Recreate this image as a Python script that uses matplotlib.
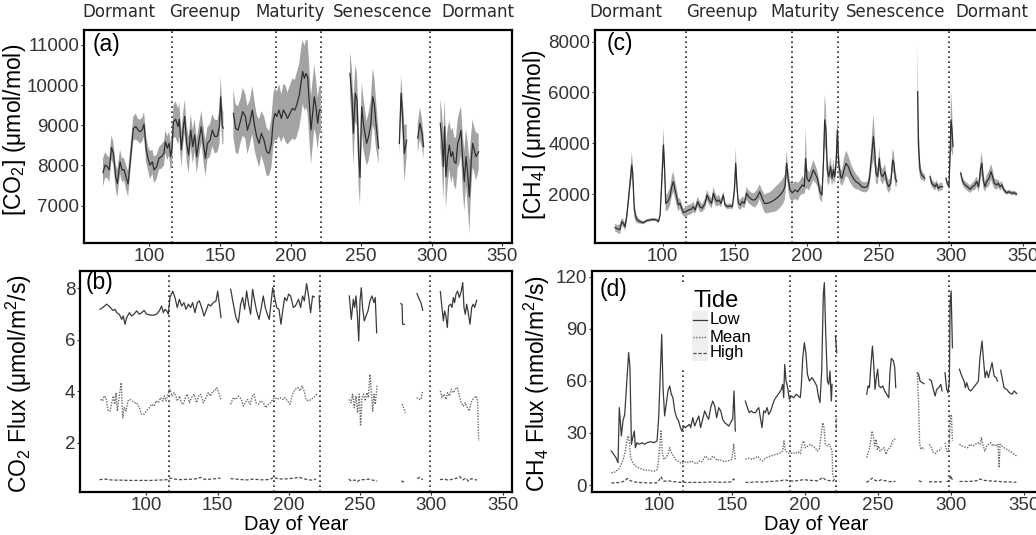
import numpy as np
import matplotlib
matplotlib.use("Agg")
import matplotlib.pyplot as plt
from matplotlib.lines import Line2D
from matplotlib.patches import Rectangle

plt.rcParams['font.family'] = ['Liberation Sans', 'DejaVu Sans']
plt.rcParams['mathtext.fontset'] = 'custom'
plt.rcParams['mathtext.rm'] = 'Liberation Sans'
plt.rcParams['mathtext.it'] = 'Liberation Sans:italic'
plt.rcParams['mathtext.default'] = 'regular'

# phenology phases
phase_days = [116, 189.5, 221.5, 299]
phase_names = ['Dormant', 'Greenup', 'Maturity', 'Senescence', 'Dormant']
doy_ticks = [100, 150, 200, 250, 300, 350]

# ---- (a) CO2 concentration: mean and spread, one list per data run ----
co2_day = [
    [67.1, 68.6, 70.2, 71.6, 73.1, 74.5, 76.1, 77.3, 79.2, 80.6, 82.0, 83.4, 84.9, 86.7, 88.6, 90.3, 92.0, 93.4, 95.0, 96.2,
     97.6, 99.0, 100.4, 102.1, 103.3, 105.2, 106.8, 108.5, 110.3, 111.3, 112.7, 113.9, 115.1, 116.0, 117.0, 118.6, 120.3, 121.2, 122.6, 124.1,
     125.0, 126.4, 127.8, 129.3, 130.7, 132.1, 133.5, 135.2, 136.8, 138.2, 139.7, 141.1, 143.0, 144.6, 146.3, 148.2, 149.6, 150.5, 151.7, 152.4],
    [159.5, 161.1, 162.8, 164.7, 166.1, 168.0, 169.4, 171.3, 172.9, 174.6, 176.0, 177.7, 179.3, 181.2, 183.1, 184.8, 186.4, 187.8, 189.0, 190.2,
     191.8, 193.5, 194.9, 196.3, 197.8, 199.6, 201.3, 203.0, 204.4, 206.2, 207.4, 208.6, 209.8, 210.9, 212.1, 213.3, 214.5, 216.8, 218.0, 219.2,
     220.4, 221.6],
    [242.1, 243.5, 244.5, 245.9, 247.1, 248.2, 249.2, 250.4, 251.6, 252.7, 253.9, 255.3, 256.8, 258.2, 259.4, 260.5, 262.4],
    [277.1, 278.3, 279.4, 280.6, 282.3],
    [290.1, 291.7, 293.1, 294.3],
    [306.1, 307.3, 308.3, 309.2, 310.1, 311.3, 312.5, 313.7, 314.9, 316.0, 317.2, 318.4, 319.6, 320.8, 321.9, 323.1, 324.3, 325.5, 326.7, 327.9,
     329.0, 330.2, 331.4, 333.3],
]
co2_mean = [
    [7820, 8010, 7970, 7890, 8450, 8300, 7720, 7550, 8090, 7890, 7900, 7720, 7540, 8220, 8920, 8970, 8880, 8840, 8900, 9030,
     8430, 8180, 8010, 8090, 7890, 7970, 8180, 8220, 8300, 8590, 8430, 8550, 8220, 8430, 9090, 9150, 8970, 9150, 8390, 8970,
     9220, 8550, 8260, 8880, 8470, 8760, 8220, 8630, 8970, 8550, 8180, 8550, 8630, 8880, 8720, 8730, 8970, 9710, 8970, 8930],
    [9300, 8920, 8880, 9130, 9340, 9220, 8880, 9090, 9380, 8970, 8720, 8550, 8800, 8630, 8340, 8300, 8550, 9130, 9300, 9220,
     9380, 9170, 9380, 9300, 9170, 9300, 9420, 9380, 9510, 9750, 10050, 10340, 10170, 10290, 10210, 9550, 8880, 9710, 9460, 9050,
     9380, 9380],
    [10290, 9710, 8800, 9800, 9630, 8300, 7700, 9460, 9050, 8800, 8550, 8720, 9010, 9710, 9510, 9050, 8430],
    [8550, 9800, 9220, 8300, 8630],
    [8680, 9050, 8800, 8470],
    [9050, 8630, 7970, 8970, 7720, 8220, 8510, 8220, 8340, 8090, 8050, 8550, 8680, 8880, 8140, 7600, 8220, 7800, 7220, 8050,
     8550, 8390, 8220, 8340],
]
co2_sd = [
    [350, 320, 280, 300, 300, 280, 300, 350, 300, 300, 280, 300, 320, 300, 300, 320, 280, 300, 300, 300,
     330, 300, 350, 300, 330, 300, 280, 300, 300, 280, 300, 300, 350, 400, 400, 450, 450, 420, 450, 400,
     420, 450, 450, 420, 420, 400, 420, 400, 400, 420, 450, 400, 400, 400, 420, 400, 450, 500, 450, 400],
    [600, 600, 600, 550, 600, 550, 600, 550, 600, 600, 550, 600, 550, 600, 600, 550, 600, 650, 650, 600,
     650, 600, 650, 700, 650, 700, 750, 750, 800, 800, 850, 800, 800, 850, 900, 900, 850, 800, 700, 650,
     600, 550],
    [550, 700, 800, 700, 650, 800, 700, 600, 650, 600, 550, 600, 600, 700, 650, 600, 400],
    [300, 450, 500, 700, 400],
    [350, 400, 350, 300],
    [600, 700, 850, 700, 800, 700, 600, 650, 600, 600, 650, 600, 650, 600, 700, 750, 700, 800, 900, 700,
     600, 550, 600, 450],
]

# ---- (c) CH4 concentration ----
ch4_day = [
    [66.9, 68.8, 70.4, 71.5, 72.7, 73.9, 75.0, 76.2, 77.3, 78.5, 79.2, 80.3, 81.9, 84.3, 86.6, 88.9, 91.2, 93.5, 95.8, 97.0,
     98.2, 99.3, 100.5, 101.2, 102.1, 103.5, 105.1, 106.3, 107.4, 108.6, 109.7, 110.9, 112.0, 113.2, 114.4, 116.0, 117.8, 119.7, 121.3, 122.5,
     124.3, 125.9, 127.5, 129.4, 130.8, 132.2, 134.0, 135.2, 136.3, 137.7, 139.1, 140.5, 142.1, 143.3, 145.1, 146.8, 148.4, 149.8, 150.7, 151.6,
     152.5, 153.9, 155.3, 156.7, 158.3, 159.5, 160.9, 162.3, 164.1, 165.9, 167.3, 168.7, 170.6, 172.2, 174.5, 176.8, 179.1, 181.5, 183.8, 184.9,
     186.1, 187.2, 188.4, 190.0, 191.9, 193.7, 195.3, 196.9, 198.3, 199.3, 200.2, 201.6, 203.0, 204.6, 205.8, 207.4, 209.2, 210.6, 211.6, 212.5,
     213.4, 214.3, 215.3, 216.6, 217.6, 218.5, 219.4, 220.4, 221.3, 222.2, 223.6, 224.5, 225.9, 227.3, 228.9, 230.5, 232.4, 234.2, 236.1, 238.2,
     240.0, 242.1, 243.5, 244.9, 246.3, 247.2, 248.1, 249.3, 250.4, 251.4, 252.7, 254.4, 255.5, 256.9, 258.3, 259.7, 260.6, 261.5, 262.5],
    [277.0, 277.7, 278.7, 279.8, 281.0, 282.1],
    [285.6, 286.8, 287.9, 289.1, 290.2, 291.4, 292.5, 294.4],
    [296.7, 297.6, 298.8, 299.5, 300.2, 300.9, 301.6],
    [306.9, 308.3, 309.9, 311.5, 313.4, 315.2, 316.8, 318.0, 319.4, 320.8, 321.7, 322.6, 323.8, 324.9, 326.6, 328.0, 329.1, 330.3, 331.9, 333.0,
     334.2, 335.6, 337.0, 338.8, 340.7, 342.3, 343.9, 345.8],
]
ch4_mean = [
    [680, 620, 610, 910, 850, 710, 1110, 1770, 2420, 3140, 2820, 1370, 1000, 910, 870, 950, 980, 1000, 980, 910,
     1170, 2420, 3930, 3210, 1630, 1700, 1900, 2290, 2490, 2160, 1900, 1570, 1630, 1440, 1270, 1300, 1370, 1400, 1500, 1370,
     1700, 1500, 1440, 1630, 1960, 1770, 1630, 2030, 1830, 1700, 1770, 1630, 1960, 1570, 1500, 1530, 1500, 2160, 3210, 2290,
     1630, 1570, 1700, 1630, 2030, 1900, 1830, 1770, 1770, 1900, 2090, 1900, 1630, 1630, 1670, 1740, 1830, 1960, 2130, 2290,
     3210, 2550, 2160, 2050, 2160, 2090, 2220, 2360, 2290, 3400, 2620, 2490, 2680, 2950, 2820, 2620, 2090, 1960, 3210, 4920,
     4520, 2950, 2680, 3080, 2620, 2950, 2680, 3210, 4520, 3210, 2680, 2620, 2950, 3210, 3080, 2820, 2620, 2490, 2420, 2290,
     2260, 2290, 2550, 3410, 4260, 3730, 2820, 2680, 3410, 2820, 2680, 2880, 2490, 2290, 2420, 3340, 3210, 2620, 2490],
    [6030, 3870, 2950, 2750, 2680, 2620],
    [2680, 2420, 2360, 2290, 2400, 2220, 2290, 2290],
    [2620, 2420, 2290, 3470, 4920, 4520, 3870],
    [2820, 2490, 2360, 2290, 2190, 2290, 2360, 2490, 2290, 3010, 3210, 2550, 2290, 2490, 2620, 2880, 2680, 2420, 2360, 2420,
     2290, 2360, 2160, 2050, 2090, 2030, 2050, 2000],
]
ch4_sd = [
    [150, 150, 200, 150, 150, 150, 200, 250, 300, 500, 450, 300, 150, 80, 60, 60, 60, 60, 60, 60,
     150, 400, 700, 500, 300, 350, 350, 400, 400, 350, 350, 250, 200, 200, 150, 200, 200, 200, 200, 150,
     200, 200, 150, 200, 200, 200, 200, 250, 250, 200, 200, 150, 150, 100, 100, 100, 100, 300, 600, 300,
     200, 200, 200, 200, 250, 250, 250, 250, 300, 300, 300, 300, 350, 400, 400, 450, 500, 500, 500, 500,
     500, 400, 350, 350, 350, 350, 300, 350, 300, 1200, 400, 350, 350, 400, 350, 300, 300, 300, 500, 1000,
     900, 500, 350, 400, 300, 400, 300, 400, 600, 500, 300, 300, 450, 500, 450, 400, 350, 300, 250, 200,
     200, 200, 300, 500, 900, 700, 400, 300, 450, 300, 300, 300, 250, 250, 250, 450, 400, 300, 200],
    [2000, 800, 300, 200, 150, 150],
    [150, 150, 150, 150, 150, 150, 150, 150],
    [100, 100, 100, 500, 1200, 900, 400],
    [150, 150, 150, 150, 150, 150, 200, 200, 200, 400, 450, 300, 200, 250, 300, 300, 300, 200, 200, 150,
     150, 150, 100, 80, 80, 80, 80, 80],
]

# ---- (b) CO2 flux by tide ----
co2f_low_day = [
    [67.4, 69.7, 72.0, 74.4, 76.3, 77.9, 79.1, 80.9, 82.6, 83.7, 84.9, 86.1, 88.0, 89.6, 91.2, 93.1, 95.0, 96.6, 98.3, 100.1,
     102.5, 104.8, 107.1, 109.0, 110.6, 111.8, 113.0, 114.2, 115.3, 116.5, 118.4, 120.0, 121.6, 123.1, 124.7, 126.3, 127.7, 129.4, 131.0, 132.4,
     134.0, 135.7, 137.1, 138.7, 140.4, 141.8, 143.4, 145.0, 146.9, 148.8, 150.0, 151.1, 152.3],
    [159.1, 161.0, 162.8, 164.5, 166.1, 167.5, 168.9, 170.3, 171.7, 173.1, 174.5, 175.9, 177.3, 179.0, 180.6, 182.0, 183.4, 184.8, 186.2, 187.6,
     188.6, 190.0, 191.4, 193.0, 194.4, 195.6, 197.0, 198.4, 199.8, 201.2, 203.1, 204.5, 206.8, 208.2, 209.6, 210.8, 212.4, 213.8, 215.2, 216.6,
     217.8],
    [221.2, 221.6],
    [242.4, 243.8, 245.2, 246.1, 247.1, 248.0, 249.0, 249.9, 250.8, 251.7, 252.9, 254.1, 255.5, 256.9, 258.3, 259.7, 260.6, 261.6],
    [278.6, 279.4, 279.8, 281.0],
    [289.9, 291.5, 292.7, 293.9],
    [306.3, 307.4, 308.4, 309.3, 310.2, 311.2, 312.1, 313.5, 314.5, 315.4, 316.3, 317.3, 318.4, 319.6, 321.0, 322.0, 322.9, 323.8, 324.8, 325.7,
     327.1, 328.3, 329.4, 330.4, 331.8],
]
co2f_low = [
    [7.18, 7.27, 7.38, 7.27, 7.14, 7.18, 7.05, 6.99, 6.79, 6.92, 6.60, 6.86, 7.05, 6.92, 6.99, 7.12, 6.99, 7.05, 7.14, 6.99,
     6.96, 6.95, 6.99, 7.12, 7.31, 7.05, 7.18, 7.12, 6.99, 7.64, 7.89, 7.64, 7.25, 7.57, 7.31, 7.44, 7.18, 7.38, 7.25, 7.44,
     7.05, 7.44, 7.51, 7.25, 6.92, 7.12, 7.38, 7.31, 7.44, 7.51, 7.89, 7.38, 6.86],
    [7.96, 7.38, 6.86, 6.66, 7.38, 7.64, 7.18, 7.89, 7.38, 6.99, 7.96, 7.51, 7.12, 6.79, 7.25, 7.70, 7.25, 6.99, 6.79, 7.51,
     8.02, 7.64, 7.25, 7.18, 6.60, 7.12, 7.64, 7.51, 7.77, 7.70, 7.25, 7.31, 7.57, 7.25, 7.70, 7.51, 8.18, 7.70, 7.05, 7.70,
     7.66],
    [7.70, 7.20],
    [7.70, 6.79, 7.57, 7.25, 7.70, 6.99, 5.95, 7.51, 8.02, 7.25, 6.73, 6.92, 7.12, 7.51, 7.70, 7.44, 7.64, 6.27],
    [7.40, 7.38, 6.60, 6.60],
    [7.79, 7.57, 7.44, 7.14],
    [7.87, 7.25, 6.73, 7.12, 6.92, 6.47, 7.31, 7.38, 7.25, 7.64, 7.44, 7.77, 7.89, 7.64, 7.89, 8.22, 7.25, 6.99, 7.38, 7.12,
     6.60, 7.25, 7.38, 7.25, 7.53],
]
co2f_mean_day = [
    [67.8, 69.2, 70.2, 71.6, 73.0, 74.4, 75.6, 76.7, 77.7, 78.6, 79.5, 80.9, 82.3, 83.3, 84.4, 85.6, 87.0, 88.4, 90.1, 91.5,
     93.1, 95.0, 96.6, 98.3, 100.1, 102.0, 103.6, 105.3, 106.7, 108.3, 110.0, 111.4, 112.5, 113.7, 115.1, 116.5, 117.9, 119.3, 120.7, 121.6,
     123.1, 124.5, 125.9, 127.3, 128.7, 130.1, 131.7, 133.3, 135.2, 136.6, 138.0, 139.9, 141.8, 143.4, 145.0, 146.5, 147.9, 149.3, 150.7, 152.1],
    [159.1, 161.0, 162.8, 164.7, 166.6, 168.0, 169.4, 170.8, 172.7, 174.5, 175.5, 176.9, 178.5, 180.2, 182.0, 183.9, 185.5, 187.2, 188.6, 190.2,
     191.9, 193.7, 195.6, 197.2, 198.9, 200.7, 202.6, 204.2, 206.3, 207.8, 209.2, 210.6, 212.0, 213.8, 215.7, 217.1, 218.5, 220.3],
    [242.4, 243.6, 244.7, 245.9, 247.1, 248.2, 249.4, 250.3, 251.3, 252.4, 253.6, 254.6, 255.7, 256.9, 257.8, 258.8, 259.7, 260.6, 262.0],
    [279.4, 280.5, 281.7],
    [289.7, 291.1, 292.7, 293.9],
    [306.3, 307.4, 308.8, 310.2, 311.4, 312.6, 314.0, 315.4, 316.8, 318.2, 319.6, 321.0, 322.4, 323.8, 325.2, 326.6, 327.8, 329.0, 330.4, 331.5,
     332.5, 333.2],
]
co2f_mean = [
    [3.68, 3.62, 3.81, 3.75, 3.23, 3.23, 3.55, 3.81, 3.49, 3.94, 3.23, 3.81, 4.33, 2.97, 3.36, 3.23, 3.62, 3.68, 3.62, 3.55,
     3.55, 3.36, 3.10, 3.10, 3.23, 3.36, 3.49, 3.42, 3.62, 3.55, 3.75, 3.62, 3.81, 3.62, 3.88, 4.07, 3.81, 3.94, 3.81, 3.62,
     3.81, 3.55, 3.49, 3.75, 3.88, 3.55, 3.75, 3.88, 3.55, 3.81, 3.88, 3.55, 3.75, 3.94, 3.81, 4.01, 4.01, 4.14, 3.94, 3.68],
    [3.49, 3.75, 3.68, 3.81, 3.68, 3.42, 3.55, 3.68, 3.49, 3.81, 3.88, 3.55, 3.49, 3.62, 3.55, 3.36, 3.49, 3.55, 3.68, 3.75,
     3.68, 3.75, 3.68, 3.75, 3.62, 3.49, 3.88, 4.07, 4.14, 4.01, 4.20, 4.01, 3.68, 3.62, 3.68, 3.75, 3.81, 3.92],
    [3.68, 3.55, 3.88, 3.36, 3.81, 3.16, 3.88, 2.65, 3.75, 3.88, 3.62, 3.94, 3.75, 4.65, 4.01, 3.23, 3.88, 3.49, 4.27],
    [3.49, 3.36, 3.16],
    [3.75, 3.68, 3.68, 4.01],
    [4.01, 3.75, 3.88, 3.68, 3.94, 3.81, 4.07, 3.94, 4.07, 4.14, 3.81, 3.55, 3.42, 3.55, 3.36, 3.23, 3.55, 3.68, 3.75, 3.81,
     3.55, 2.06],
]
co2f_high_day = [
    [67, 71, 75, 79, 83, 87, 91, 95, 99, 103, 107, 111, 115, 117, 120, 124, 128, 132, 136, 138, 141, 145, 149, 152],
    [159, 163, 167, 171, 175, 179, 183, 187, 189, 192, 196, 200, 204, 207, 210, 213, 216, 219],
    [242, 244, 246, 248, 250, 253, 256, 259, 262],
    [279, 280, 281],
    [290, 292, 294],
    [306, 309, 312, 315, 318, 320, 322, 324, 326, 328, 330, 332],
]
co2f_high = [
    [0.56, 0.58, 0.55, 0.54, 0.54, 0.53, 0.53, 0.53, 0.53, 0.53, 0.54, 0.55, 0.56, 0.62, 0.58, 0.56, 0.57, 0.58, 0.60, 0.65,
     0.57, 0.58, 0.60, 0.62],
    [0.60, 0.58, 0.56, 0.55, 0.58, 0.56, 0.55, 0.58, 0.65, 0.60, 0.58, 0.60, 0.62, 0.66, 0.60, 0.56, 0.54, 0.58],
    [0.58, 0.50, 0.55, 0.48, 0.56, 0.56, 0.58, 0.54, 0.50],
    [0.52, 0.47, 0.50],
    [0.60, 0.65, 0.55],
    [0.56, 0.58, 0.54, 0.58, 0.62, 0.68, 0.55, 0.62, 0.50, 0.60, 0.56, 0.55],
]

# ---- (d) CH4 flux by tide ----
ch4f_low_day = [
    [67.0, 68.6, 70.2, 71.6, 72.5, 73.9, 75.0, 76.2, 77.5, 78.9, 79.8, 80.8, 81.7, 82.8, 83.5, 84.6, 86.2, 88.1, 89.9, 91.5,
     93.8, 96.1, 98.4, 99.5, 100.7, 101.6, 102.5, 103.6, 105.0, 105.9, 107.1, 108.2, 109.3, 110.5, 111.9, 113.2, 114.4, 115.5, 116.7, 117.8,
     119.2, 120.6, 121.5, 122.9, 124.2, 125.6, 127.0, 128.3, 129.7, 131.1, 132.5, 133.8, 135.2, 136.6, 138.0, 139.3, 140.7, 142.1, 143.4, 144.8,
     146.2, 147.6, 148.9, 150.3, 151.2, 152.1],
    [159.0, 160.4, 161.7, 163.1, 164.5, 165.9, 167.2, 168.2, 169.3, 170.4, 171.6, 172.7, 173.9, 175.0, 176.4, 177.8, 179.1, 180.7, 182.3, 183.7,
     184.6, 185.3, 186.0, 186.9, 187.8, 189.2, 190.6, 192.2, 193.8, 195.2, 196.7, 197.4, 198.4, 199.5, 200.6, 201.6, 202.9, 204.8, 206.8, 208.0,
     209.1, 210.2, 211.4, 212.5, 213.2, 214.1, 215.3, 216.2, 217.1, 218.0, 218.5],
    [220.8, 221.7],
    [242.3, 243.2, 244.1, 245.2, 246.2, 247.1, 248.0, 248.9, 249.8, 250.7, 251.9, 253.3, 254.6, 256.0, 257.4, 258.3, 259.2, 260.6, 261.5, 262.2],
    [277.0, 277.9, 278.9, 280.3, 281.6],
    [285.3, 286.7, 288.0, 289.2, 290.3, 291.7, 293.1, 294.0],
    [296.0, 297.2, 298.1, 299.0, 299.5, 300.2, 301.1],
    [305.9, 307.5, 309.1, 310.0, 310.9, 312.3, 313.7, 315.5, 317.3, 318.9, 320.0, 321.4, 322.3, 323.5, 324.6, 325.8, 326.9, 328.3, 329.7, 331.1,
     332.0],
    [334.2, 335.2, 336.5, 338.4, 340.2, 342.0, 343.4, 345.2],
]
ch4f_low = [
    [19.6, 17.7, 15.8, 12.9, 44.6, 28.3, 36.9, 40.7, 58.0, 76.3, 67.6, 23.5, 27.3, 31.1, 21.5, 24.4, 23.5, 24.4, 23.5, 24.4,
     25.0, 24.4, 25.4, 38.8, 65.7, 86.8, 56.1, 39.8, 48.4, 54.2, 57.1, 52.3, 50.3, 42.7, 38.8, 36.9, 33.1, 31.1, 34.0, 33.1,
     34.0, 35.0, 33.1, 38.8, 34.0, 36.9, 39.8, 33.1, 37.9, 42.7, 39.8, 37.9, 44.6, 48.4, 45.5, 38.8, 44.6, 42.7, 37.9, 36.0,
     35.0, 34.0, 36.0, 37.9, 54.2, 31.1],
    [48.4, 44.6, 41.7, 42.7, 41.7, 41.7, 43.6, 44.6, 38.8, 33.1, 42.7, 41.7, 44.6, 40.7, 42.7, 46.5, 49.4, 51.3, 53.2, 55.1,
     58.0, 50.3, 69.5, 59.9, 57.1, 49.4, 51.3, 50.3, 52.3, 51.3, 50.3, 57.1, 73.4, 82.0, 75.3, 63.8, 59.9, 61.9, 59.0, 57.1,
     51.3, 47.5, 65.7, 109.9, 116.6, 88.7, 59.9, 58.0, 65.7, 48.4, 58.0],
    [85.9, 76.3],
    [52.3, 57.1, 56.1, 69.5, 80.1, 69.5, 55.1, 61.9, 66.7, 57.1, 56.1, 57.1, 54.2, 52.3, 50.3, 65.7, 73.0, 71.5, 67.6, 56.1],
    [64.7, 63.8, 59.9, 59.0, 58.4],
    [60.9, 59.9, 55.1, 51.3, 55.1, 56.1, 58.0, 54.2],
    [64.7, 55.1, 53.2, 59.9, 104.1, 111.8, 79.1],
    [66.7, 62.8, 59.9, 56.1, 59.0, 55.1, 54.2, 56.1, 58.0, 59.9, 73.4, 83.0, 73.4, 61.9, 65.7, 61.9, 65.7, 70.5, 62.8, 61.9,
     59.9],
    [66.1, 61.9, 56.1, 55.1, 53.2, 52.3, 54.2, 52.7],
]
ch4f_mean_day = [
    [67.0, 68.6, 70.2, 72.1, 73.9, 75.5, 76.6, 77.5, 78.5, 79.4, 80.3, 81.7, 83.5, 85.8, 88.1, 90.4, 92.6, 94.9, 97.2, 98.6,
     100.0, 101.1, 102.0, 103.2, 104.5, 105.9, 107.1, 108.2, 109.6, 111.0, 112.3, 113.7, 115.1, 116.7, 118.3, 120.1, 121.9, 123.8, 125.6, 127.4,
     129.3, 130.6, 132.0, 133.4, 135.0, 136.6, 138.0, 139.6, 141.2, 143.0, 144.8, 146.6, 148.5, 149.8, 151.0, 152.1],
    [159.0, 161.3, 163.6, 165.9, 167.7, 169.3, 170.9, 172.7, 174.6, 176.4, 178.2, 180.0, 181.9, 183.3, 184.6, 185.5, 186.5, 187.8, 189.7, 191.5,
     193.3, 195.2, 196.8, 197.9, 199.0, 200.2, 202.0, 203.8, 205.2, 206.8, 208.4, 209.8, 211.1, 212.1, 213.0, 213.9, 215.3, 216.6, 217.6, 218.5,
     218.9, 219.8],
    [221.3, 221.6],
    [242.3, 243.2, 244.1, 245.0, 245.9, 246.8, 247.8, 248.7, 249.6, 250.5, 251.4, 252.8, 254.2, 255.5, 256.9, 258.3, 259.2, 260.1, 261.0, 261.9],
    [277.0, 277.9, 278.6, 279.6, 280.7, 281.6],
    [285.3, 286.7, 288.0, 289.4, 290.8, 292.1, 293.5],
    [296.0, 297.2, 298.1, 299.0, 299.7, 300.4, 301.1],
    [305.9, 307.7, 309.5, 311.4, 313.2, 315.0, 316.9, 318.7, 320.1, 321.0, 321.9, 323.3, 324.6, 326.0, 327.4, 328.8, 330.1, 331.5, 332.4, 333.1,
     333.8, 335.2, 336.5, 338.4, 340.2, 342.0, 343.4, 345.2],
]
ch4f_mean = [
    [7.1, 7.1, 8.1, 9.1, 11.9, 15.8, 19.6, 24.4, 28.3, 25.4, 15.8, 12.9, 11.0, 10.0, 9.1, 8.5, 8.5, 8.1, 8.1, 9.1,
     19.6, 31.1, 18.7, 14.8, 15.8, 17.7, 21.5, 18.7, 16.7, 14.8, 13.9, 13.5, 12.3, 12.9, 13.5, 12.9, 13.9, 12.9, 12.3, 13.9,
     13.5, 15.8, 16.7, 14.8, 14.8, 16.7, 15.8, 14.2, 14.8, 13.9, 13.5, 13.9, 14.2, 14.8, 23.5, 14.8],
    [14.8, 15.4, 14.8, 15.8, 16.5, 14.8, 13.9, 15.4, 16.2, 16.7, 17.3, 17.7, 18.1, 18.7, 19.6, 25.4, 19.6, 18.7, 18.1, 18.7,
     18.1, 19.2, 18.1, 23.5, 25.4, 21.5, 22.5, 23.5, 22.5, 21.5, 19.6, 20.6, 29.2, 35.9, 33.1, 23.5, 22.5, 23.5, 21.5, 19.6,
     6.2, 4.3],
    [31.1, 40.7],
    [15.8, 18.7, 20.6, 25.4, 31.1, 28.3, 22.5, 26.3, 20.6, 22.5, 19.6, 20.6, 21.5, 17.7, 20.6, 21.5, 23.5, 25.4, 26.3, 26.3],
    [64.7, 46.5, 23.5, 20.6, 21.5, 20.6],
    [23.5, 21.5, 18.7, 18.1, 19.6, 20.0, 21.5],
    [24.4, 19.6, 18.7, 25.4, 38.8, 40.7, 25.4],
    [23.5, 22.5, 21.9, 21.5, 23.5, 22.5, 23.5, 24.4, 23.5, 27.3, 23.5, 19.6, 22.5, 23.5, 24.4, 22.5, 23.5, 22.5, 23.5, 10.0,
     23.5, 22.5, 21.5, 20.6, 19.6, 18.7, 17.7, 16.7],
]
ch4f_high_day = [
    [67, 70, 73, 76, 78, 80, 83, 86, 90, 94, 98, 100, 101, 103, 106, 109, 112, 115, 118, 121, 125, 129, 133, 137, 141, 145, 149, 151, 152],
    [159, 163, 167, 171, 175, 179, 183, 186, 189, 192, 196, 199, 202, 206, 209, 212, 214, 217, 219, 221],
    [242, 244, 246, 248, 250, 252, 255, 258, 261, 262],
    [278, 280, 281],
    [285, 287, 289, 291, 294],
    [297, 299, 300, 301],
    [306, 309, 312, 315, 318, 320, 322, 325, 328, 331, 334, 337, 340, 343, 345],
]
ch4f_high = [
    [1.2, 1.3, 1.5, 2.3, 3.8, 2.5, 1.8, 1.5, 1.3, 1.2, 1.3, 3.0, 4.8, 2.2, 2.5, 2.0, 1.8, 1.5, 1.6, 1.5, 1.6, 1.5, 1.7, 1.8, 1.6,
     1.7, 1.8, 3.5, 2.0],
    [1.5, 1.6, 1.8, 1.7, 2.0, 2.2, 2.5, 3.0, 2.5, 2.3, 2.6, 3.2, 2.8, 2.6, 2.4, 4.5, 3.0, 2.5, 2.2, 4.0],
    [1.5, 2.5, 4.0, 2.8, 2.2, 3.0, 2.5, 2.0, 2.0, 2.2],
    [2.5, 1.8, 2.0],
    [1.8, 2.0, 1.8, 2.0, 1.8],
    [2.0, 2.5, 5.5, 3.0],
    [2.0, 2.2, 2.0, 2.3, 2.5, 3.5, 2.8, 2.5, 2.3, 2.2, 2.0, 1.8, 1.8, 1.7, 1.6],
]

W, H = 1036, 535
LOW = dict(color='#3a3a3a', lw=0.9, ls='-')
MEAN = dict(color='#6a6a6a', lw=1.0, ls=(0, (1, 1)))
HIGH = dict(color='#4a4a4a', lw=0.9, ls=(0, (2.5, 1.5)))


def box(l, t, r, b):
    return [l / W, 1 - b / H, (r - l) / W, (b - t) / H]


def join(segs):
    out = []
    for i, s in enumerate(segs):
        if i:
            out.append(np.nan)
        out.extend(s)
    return np.array(out, dtype=float)


def style(ax, xlim, ylim, yticks, label, lab_xy, tag, tag_xy):
    ax.set_xlim(xlim)
    ax.set_ylim(ylim)
    ax.set_xticks(doy_ticks)
    ax.set_yticks(yticks)
    for s in ax.spines.values():
        s.set_linewidth(1.6)
        s.set_color('black')
    ax.tick_params(length=2, width=0.8, color='#333333', labelsize=13.5,
                   labelcolor='#333333', pad=1.5)
    for d in phase_days:
        ax.axvline(d, color='#222222', lw=1.2, ls=(0, (1, 2)), zorder=1)
    ax.set_ylabel(label, fontsize=16.5)
    ax.yaxis.set_label_coords(*lab_xy)
    ax.text(tag_xy[0], tag_xy[1], tag, transform=ax.transAxes, fontsize=16.5,
            va='top', ha='left')


def band_panel(ax, day, mean, sd, band_color):
    x = join(day)
    m = join(mean)
    s = join(sd)
    ax.fill_between(x, m - s, m + s, color=band_color, lw=0, zorder=2)
    ax.plot(x, m, color='#2e2e2e', lw=0.9, zorder=3)


fig = plt.figure(figsize=(W / 100, H / 100), dpi=100)

ax_a = fig.add_axes(box(84, 30, 512, 243))
band_panel(ax_a, co2_day, co2_mean, co2_sd, '#a3a3a3')
style(ax_a, (53.66, 356.9), (6070, 11373), [7000, 8000, 9000, 10000, 11000],
      '[CO$_2$] (μmol/mol)', (-0.13, 0.53), '(a)', (0.021, 0.985))

ax_c = fig.add_axes(box(595, 30, 1040, 243))
band_panel(ax_c, ch4_day, ch4_mean, ch4_sd, '#a8a8a8')
style(ax_c, (53.0, 362.0), (71, 8461), [2000, 4000, 6000, 8000],
      '[CH$_4$] (μmol/mol)', (-0.106, 0.507), '(c)', (0.025, 0.99))

ax_b = fig.add_axes(box(80, 271, 512, 492))
ax_b.plot(join(co2f_low_day), join(co2f_low), zorder=3, **LOW)
ax_b.plot(join(co2f_mean_day), join(co2f_mean), zorder=3, **MEAN)
ax_b.plot(join(co2f_high_day), join(co2f_high), zorder=3, **HIGH)
style(ax_b, (53.32, 356.6), (0.08, 8.67), [2, 4, 6, 8],
      'CO$_2$ Flux (μmol/m$^2$/s)', (-0.106, 0.49), '(b)', (0.014, 1.0))
ax_b.set_xlabel('Day of Year', fontsize=14.5, labelpad=1)

ax_d = fig.add_axes(box(592, 271, 1040, 492))
ax_d.plot(join(ch4f_low_day), join(ch4f_low), zorder=3, **LOW)
ax_d.plot(join(ch4f_mean_day), join(ch4f_mean), zorder=3, **MEAN)
ax_d.plot(join(ch4f_high_day), join(ch4f_high), zorder=3, **HIGH)
style(ax_d, (53.75, 361.2), (-4, 123.3), [0, 30, 60, 90, 120],
      'CH$_4$ Flux (nmol/m$^2$/s)', (-0.089, 0.489), '(d)', (0.016, 0.97))
ax_d.set_xlabel('Day of Year', fontsize=14.5, labelpad=1)

# phase names above the top panels
for xs in ([119, 204.5, 290, 383, 478], [626, 721.5, 805.5, 896, 991.5]):
    for x, name in zip(xs, phase_names):
        fig.text(x / W, 1 - 17 / H, name, ha='center', va='baseline',
                 fontsize=12, family='DejaVu Sans', color='#2a2a2a')

# tide legend in panel (d)
fig.add_artist(Rectangle((680 / W, 1 - 369 / H), 72 / W, 84 / H, transform=fig.transFigure,
                         facecolor='white', edgecolor='none', zorder=3))
fig.add_artist(Rectangle((692 / W, 1 - 361 / H), 16 / W, 50 / H, transform=fig.transFigure,
                         facecolor='#efefef', edgecolor='none', zorder=3.1))
fig.text(693 / W, 1 - 307 / H, 'Tide', fontsize=17, va='baseline', zorder=4)
for name, sty, y in (('Low', LOW, 320), ('Mean', MEAN, 337), ('High', HIGH, 353)):
    fig.add_artist(Line2D([693 / W, 707 / W], [1 - y / H, 1 - y / H], transform=fig.transFigure,
                          zorder=4, **sty))
    fig.text(710 / W, 1 - y / H, name, fontsize=12, va='center', zorder=4)

fig.savefig('out.png', dpi=100)
